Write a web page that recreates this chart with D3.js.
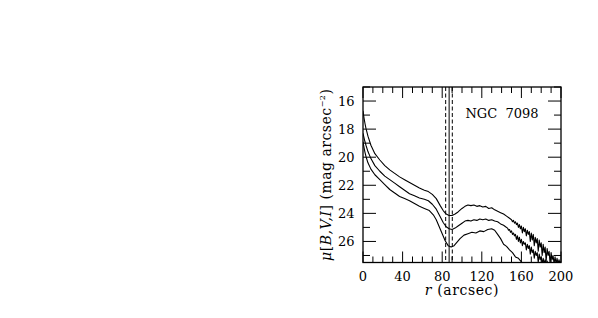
<!DOCTYPE html>
<html>
<head>
<meta charset="utf-8">
<script src="https://cdn.jsdelivr.net/npm/d3@7"></script>
<style>
  body { margin: 0; background: #fff; }
  svg text { font-family: "DejaVu Serif", "Liberation Serif", serif; fill: #000; }
</style>
</head>
<body>
<svg id="chart" width="598" height="318"></svg>
<script>
// radial surface brightness profiles (I top, V middle, B bottom)
var rI  = [0,1,2,3,5,8,12,17,22,27,32,37,42,47,52,57,62,66,70,74,78,81,84,87,90,93,96,100,103,106,109,112,115,118,121,124,127,130,133,136,139,142,145,148,
           150,151,152,153,154,155,156,157,158,159,160,161,162,163,164,165,166,167,168,169,170,171,172,173,174,175,
           176,177,178,179,180,181,182,183,184,185,186,187,188,189,190,191,192,193,194,195,196,197,198,199,200];
var muI = [16.7,17.2,17.6,17.95,18.5,19.15,19.75,20.2,20.6,20.9,21.15,21.4,21.6,21.8,22.0,22.2,22.35,22.45,22.65,22.95,23.45,23.8,24.05,24.15,24.15,24.05,23.9,23.65,23.5,23.4,23.45,23.4,23.5,23.45,23.55,23.5,23.65,23.6,23.75,23.85,23.95,24.05,24.2,24.35,
           24.45,24.6,24.5,24.7,24.6,24.8,24.7,25.0,24.8,25.1,24.9,25.4,25.0,25.3,25.1,25.6,25.2,25.5,25.3,26.0,25.4,25.9,25.5,26.3,25.7,26.1,
           25.8,26.7,25.9,26.4,26.1,27.0,26.2,26.8,26.4,27.4,26.5,27.0,26.7,27.6,26.8,27.3,27.0,27.6,27.1,27.6,27.2,27.6,27.3,27.6,27.4];

var rV  = [0,1,2,3,5,8,12,17,22,27,32,37,42,47,52,57,62,66,70,74,78,81,84,87,90,93,96,100,103,106,109,112,115,118,121,124,127,130,133,136,139,142,144,
           146,147,148,149,150,151,152,153,154,155,156,157,158,159,160,161,162,163,164,165,166,167,168,169,170,171,172,173,174,175,
           176,177,178,179,180,181,182,183,184,185,186,187,188];
var muV = [18.3,18.6,18.9,19.15,19.6,20.1,20.6,21.0,21.35,21.6,21.85,22.1,22.35,22.6,22.75,22.9,23.0,23.1,23.35,23.7,24.25,24.65,24.95,25.1,25.15,25.05,24.9,24.7,24.55,24.5,24.55,24.45,24.5,24.4,24.45,24.4,24.5,24.45,24.55,24.6,24.75,24.85,24.95,
           25.05,25.2,25.15,25.35,25.25,25.5,25.4,25.6,25.5,25.85,25.6,26.0,25.7,26.1,25.85,26.3,26.0,26.2,26.1,26.6,26.2,26.5,26.3,26.9,26.4,26.8,26.6,27.2,26.7,27.0,
           26.8,27.5,26.9,27.3,27.1,27.6,27.2,27.6,27.3,27.6,27.4,27.6,27.6];

var rB  = [0,1,2,3,5,8,12,17,22,27,32,37,42,47,52,57,62,67,71,74,77,80,83,86,89,92,95,98,102,106,110,114,118,122,126,130,133,136,139,142,145,148,151,154,157,160,162];
var muB = [18.9,19.3,19.65,19.95,20.4,20.85,21.25,21.6,21.95,22.3,22.55,22.8,22.95,23.1,23.3,23.5,23.65,23.8,24.1,24.45,24.95,25.45,25.95,26.3,26.4,26.3,26.05,25.8,25.55,25.45,25.35,25.4,25.25,25.3,25.15,25.1,25.2,25.5,25.8,26.2,26.35,26.6,26.8,27.1,27.2,27.45,27.6];

var rLines  = [83.5, 87, 90.2];
var lineDash = [true, false, true];

var xTicks = [0, 40, 80, 120, 160, 200];
var yTicks = [16, 18, 20, 22, 24, 26];
var title = "NGC  7098";

var svg = d3.select('#chart');
var pl = 363, pt = 87, w = 198, h = 175.5;  // plot box

var x = d3.scaleLinear().domain([0, 200]).range([pl, pl + w]);
var y = d3.scaleLinear().domain([15, 27.5]).range([pt, pt + h]);

var xMinor = d3.range(0, 201, 10);
var yMinor = d3.range(15, 28, 1);

svg.append('defs').append('clipPath').attr('id', 'clip')
  .append('rect').attr('x', pl).attr('y', pt).attr('width', w).attr('height', h);

// ticks on all four sides, pointing inward
var g = svg.append('g').attr('stroke', '#000').attr('stroke-width', 1);
xMinor.forEach(function(v) {
  var len = (v % 40 === 0) ? 11 : 6;
  g.append('line').attr('x1', x(v)).attr('x2', x(v)).attr('y1', pt + h).attr('y2', pt + h - len);
  g.append('line').attr('x1', x(v)).attr('x2', x(v)).attr('y1', pt).attr('y2', pt + len);
});
yMinor.forEach(function(v) {
  var len = (v % 2 === 0) ? 13 : 7;
  g.append('line').attr('y1', y(v)).attr('y2', y(v)).attr('x1', pl).attr('x2', pl + len);
  g.append('line').attr('y1', y(v)).attr('y2', y(v)).attr('x1', pl + w).attr('x2', pl + w - len);
});

// frame
svg.append('rect').attr('x', pl).attr('y', pt).attr('width', w).attr('height', h)
  .attr('fill', 'none').attr('stroke', '#000').attr('stroke-width', 1.3);

// vertical markers
svg.append('g').selectAll('line').data(rLines).enter().append('line')
  .attr('x1', function(d) { return x(d); }).attr('x2', function(d) { return x(d); })
  .attr('y1', pt).attr('y2', pt + h)
  .attr('stroke', '#000').attr('stroke-width', 1)
  .attr('stroke-dasharray', function(d, i) { return lineDash[i] ? '4,2.5' : null; });

// profiles
var line = d3.line().x(function(d) { return x(d[0]); }).y(function(d) { return y(d[1]); });
var profiles = [d3.zip(rI, muI), d3.zip(rV, muV), d3.zip(rB, muB)];
svg.append('g').attr('clip-path', 'url(#clip)')
  .selectAll('path').data(profiles).enter().append('path')
  .attr('d', line).attr('fill', 'none').attr('stroke', '#000').attr('stroke-width', 1.1)
  .attr('stroke-linejoin', 'round');

// tick labels
svg.append('g').selectAll('text').data(xTicks).enter().append('text')
  .attr('x', function(d) { return x(d); }).attr('y', 281)
  .attr('text-anchor', 'middle').attr('font-size', 13).text(function(d) { return d; });
svg.append('g').selectAll('text').data(yTicks).enter().append('text')
  .attr('x', 354.5).attr('y', function(d) { return y(d) + 5; })
  .attr('text-anchor', 'end').attr('font-size', 13).text(function(d) { return d; });

// axis titles
var xt = svg.append('text').attr('x', pl + w / 2).attr('y', 295)
  .attr('text-anchor', 'middle').attr('font-size', 14).attr('letter-spacing', 0.6);
xt.append('tspan').attr('font-style', 'italic').text('r');
xt.append('tspan').text(' (arcsec)');

var yt = svg.append('text')
  .attr('transform', 'translate(331,' + (pt + h / 2) + ') rotate(-90)')
  .attr('text-anchor', 'middle').attr('font-size', 14).attr('letter-spacing', 0.5);
yt.append('tspan').attr('font-style', 'italic').text('μ');
yt.append('tspan').text('[');
yt.append('tspan').attr('font-style', 'italic').text('B,V,I');
yt.append('tspan').text(']  (mag  arcsec');
yt.append('tspan').attr('font-size', 8).attr('dy', -6).text('−2');
yt.append('tspan').attr('dy', 6).text(')');

svg.append('text').attr('x', 502).attr('y', 118).attr('text-anchor', 'middle')
  .attr('font-size', 13).style('white-space', 'pre').text(title);
</script>
</body>
</html>
